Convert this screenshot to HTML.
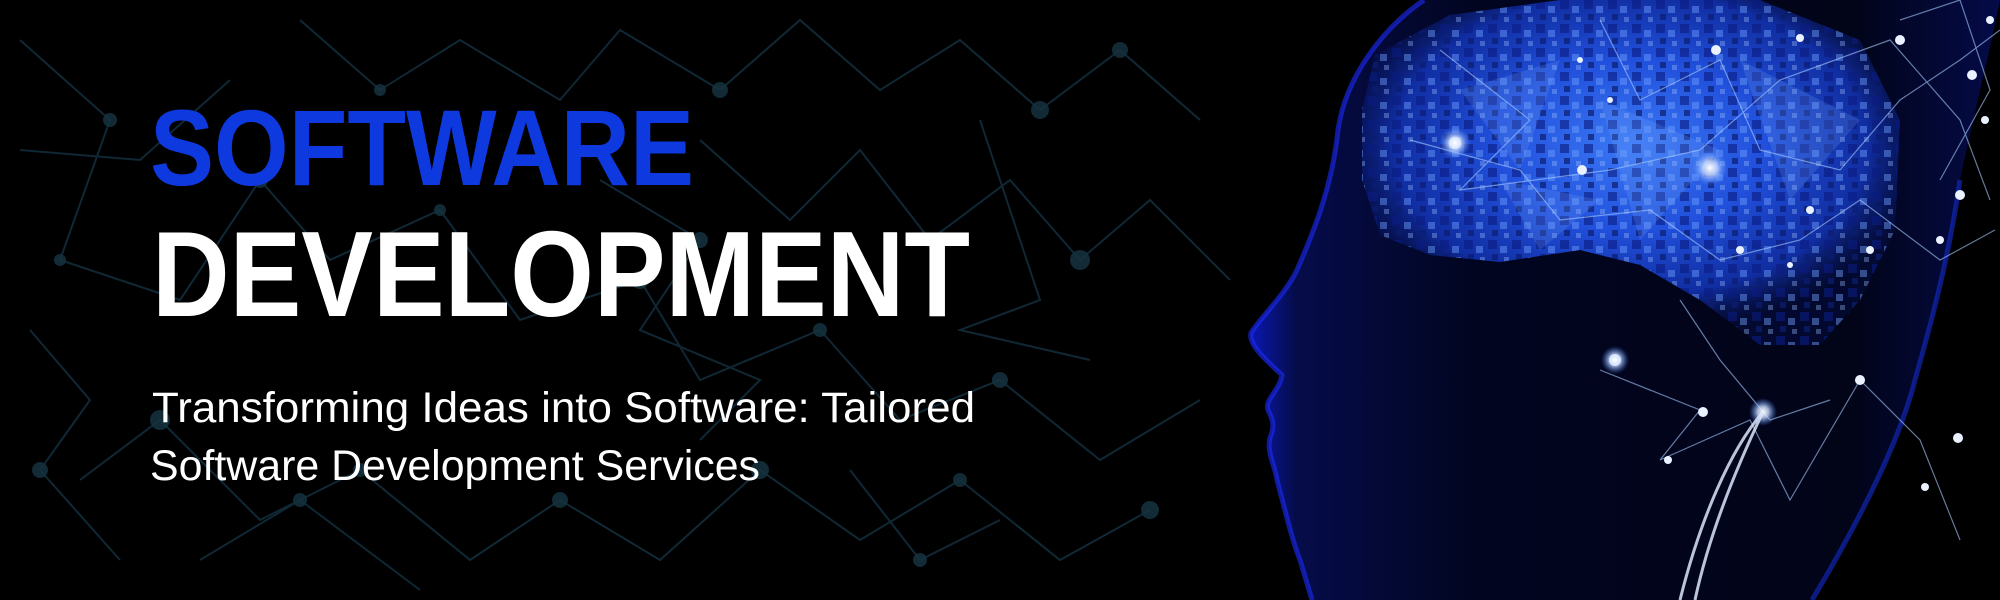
<!DOCTYPE html>
<html><head><meta charset="utf-8"><style>
html,body{margin:0;padding:0;background:#000;}
svg{display:block}
</style></head><body>
<svg width="2000" height="600" viewBox="0 0 2000 600" xmlns="http://www.w3.org/2000/svg">
<defs>
<linearGradient id="head" x1="0" y1="0" x2="1" y2="0">
<stop offset="0" stop-color="#0a18b0"/><stop offset="0.06" stop-color="#050c4a"/><stop offset="0.3" stop-color="#020520"/><stop offset="0.8" stop-color="#020418"/><stop offset="1" stop-color="#040b48"/>
</linearGradient>
<radialGradient id="brain" cx="0.5" cy="0.42" r="0.55">
<stop offset="0" stop-color="#3a78f5"/><stop offset="0.45" stop-color="#2150dc"/><stop offset="0.8" stop-color="#1232b0" stop-opacity="0.9"/><stop offset="1" stop-color="#061560" stop-opacity="0.3"/>
</radialGradient>
<pattern id="sq" width="24" height="24" patternUnits="userSpaceOnUse">
<rect x="0" y="0" width="9" height="9" fill="#0a1a80" opacity="0.6"/>
<rect x="12" y="6" width="7" height="7" fill="#6fa0ff" opacity="0.45"/>
<rect x="4" y="14" width="6" height="6" fill="#0b1c70" opacity="0.7"/>
<rect x="16" y="17" width="5" height="5" fill="#9cc0ff" opacity="0.35"/>
</pattern>
<radialGradient id="glow"><stop offset="0" stop-color="#fff"/><stop offset="0.4" stop-color="#cfe0ff" stop-opacity="0.8"/><stop offset="1" stop-color="#4080ff" stop-opacity="0"/></radialGradient>
</defs>
<rect width="2000" height="600" fill="#000"/>
<g stroke="#13303f" stroke-width="2" fill="none" opacity="0.85">
<polyline points="20,40 110,120 60,260 180,300 260,180 330,260 440,210 520,320 640,280 700,380 820,330 900,420 1000,380 1100,460 1200,400"/>
<polyline points="80,480 160,420 260,520 360,470 470,560 560,500 660,560 760,470 860,540 960,480 1060,560 1150,510"/>
<polyline points="300,20 380,90 460,40 560,100 620,30 720,90 800,20 880,90 960,40 1040,110 1120,50 1200,120"/>
<polyline points="700,140 790,220 860,150 930,240 1010,180 1080,260 1150,200 1230,280"/>
<polyline points="30,330 90,400 40,470 120,560"/>
<polyline points="980,120 1040,300 960,330 1090,360"/>
<polyline points="850,470 920,560 1000,520"/>
<polyline points="20,150 140,160 230,80"/>
<polyline points="600,180 700,240 640,330 760,380 700,440"/>
<polyline points="200,560 300,500 420,590"/>
</g>
<g fill="#15323f" opacity="0.85">
<circle cx="110" cy="120" r="7"/><circle cx="60" cy="260" r="6"/><circle cx="260" cy="180" r="8"/><circle cx="440" cy="210" r="6"/><circle cx="640" cy="280" r="9"/><circle cx="820" cy="330" r="7"/><circle cx="1000" cy="380" r="8"/><circle cx="160" cy="420" r="10"/><circle cx="360" cy="470" r="7"/><circle cx="560" cy="500" r="8"/><circle cx="760" cy="470" r="9"/><circle cx="960" cy="480" r="7"/><circle cx="380" cy="90" r="6"/><circle cx="720" cy="90" r="8"/><circle cx="1040" cy="110" r="9"/><circle cx="930" cy="240" r="7"/><circle cx="1080" cy="260" r="10"/><circle cx="40" cy="470" r="8"/><circle cx="920" cy="560" r="7"/><circle cx="1120" cy="50" r="8"/><circle cx="1150" cy="510" r="9"/><circle cx="700" cy="240" r="8"/><circle cx="300" cy="500" r="7"/>
</g>
<path d="M1424,0 C1380,30 1345,80 1338,130 C1332,190 1310,240 1297,270 C1285,295 1258,320 1251,333 C1248,345 1268,362 1282,375 C1280,390 1264,400 1268,410 C1272,418 1275,425 1271,435 C1265,450 1275,465 1277,480 C1285,510 1292,540 1300,560 L1312,600 L1812,600 C1860,520 1900,440 1915,380 C1935,310 1950,250 1960,180 C1975,110 1990,50 2000,0 Z" fill="url(#head)"/>
<path d="M1424,0 C1380,30 1345,80 1338,130 C1332,190 1310,240 1297,270 C1285,295 1258,320 1251,333 C1248,345 1268,362 1282,375 C1280,390 1264,400 1268,410 C1272,418 1275,425 1271,435 C1265,450 1275,465 1277,480 C1285,510 1292,540 1300,560 L1312,600" fill="none" stroke="#1c2cff" stroke-width="5" opacity="0.6"/>
<path d="M1812,600 C1860,520 1900,440 1915,380 C1935,310 1950,250 1960,180" fill="none" stroke="#1630e0" stroke-width="5" opacity="0.55"/>
<path d="M1375,55 L1450,15 L1560,0 L1760,0 L1860,40 L1900,120 L1895,230 L1860,300 L1820,345 L1760,345 L1700,300 L1640,265 L1580,250 L1500,262 L1430,255 L1380,235 L1362,180 L1362,110 Z" fill="url(#brain)"/>
<path d="M1375,55 L1450,15 L1560,0 L1760,0 L1860,40 L1900,120 L1895,230 L1860,300 L1820,345 L1760,345 L1700,300 L1640,265 L1580,250 L1500,262 L1430,255 L1380,235 L1362,180 L1362,110 Z" fill="url(#sq)"/>
<g fill="#7fb0ff" opacity="0.18">
<polygon points="1460,90 1560,60 1520,170"/><polygon points="1600,100 1720,150 1640,240"/><polygon points="1740,60 1860,120 1790,200"/><polygon points="1500,180 1600,200 1540,250"/>
</g>
<g stroke="#a8ccff" stroke-width="1.2" opacity="0.6" fill="none">
<polyline points="1440,50 1530,120 1460,190 1610,170 1700,150 1780,80 1890,40 1960,120 1990,200"/>
<polyline points="1410,140 1520,170 1560,220 1650,210 1720,260 1800,240 1860,200 1940,260 1995,230"/>
<polyline points="1600,20 1640,100 1720,60 1760,150 1840,170 1900,100 1960,60 2000,30"/>
<polyline points="1600,370 1700,410 1660,460 1750,420 1790,500 1860,380 1920,440 1960,540"/>
<polyline points="1680,300 1720,360 1770,420 1830,400"/>
<polyline points="1900,20 1960,0 1990,90 1940,180"/>
</g>
<g fill="#eaf2ff">
<circle cx="1455" cy="143" r="6"/><circle cx="1582" cy="170" r="5"/><circle cx="1716" cy="50" r="5"/><circle cx="1800" cy="38" r="4"/><circle cx="1900" cy="40" r="5"/><circle cx="1972" cy="75" r="5"/><circle cx="1960" cy="195" r="5"/><circle cx="1940" cy="240" r="4"/><circle cx="1870" cy="250" r="4"/><circle cx="1810" cy="210" r="4"/><circle cx="1740" cy="250" r="4"/><circle cx="1615" cy="360" r="6"/><circle cx="1703" cy="412" r="5"/><circle cx="1668" cy="460" r="4"/><circle cx="1860" cy="380" r="5"/><circle cx="1958" cy="438" r="5"/><circle cx="1925" cy="487" r="4"/><circle cx="1790" cy="265" r="3"/><circle cx="1580" cy="60" r="3"/><circle cx="1610" cy="100" r="3"/><circle cx="1990" cy="20" r="4"/><circle cx="1985" cy="120" r="4"/>
</g>
<circle cx="1455" cy="143" r="16" fill="url(#glow)"/><circle cx="1710" cy="168" r="18" fill="url(#glow)"/><circle cx="1763" cy="412" r="14" fill="url(#glow)"/><circle cx="1615" cy="360" r="14" fill="url(#glow)"/>
<path d="M1763,412 C1730,450 1700,520 1680,600 M1763,412 C1740,460 1710,530 1695,600" stroke="#dde6ff" stroke-width="3" fill="none" opacity="0.85"/>
<text x="150" y="185" font-family="Liberation Sans, sans-serif" font-weight="bold" font-size="108" fill="#0d39df" textLength="544" lengthAdjust="spacingAndGlyphs">SOFTWARE</text>
<text x="152" y="316" font-family="Liberation Sans, sans-serif" font-weight="bold" font-size="122" fill="#ffffff" textLength="818" lengthAdjust="spacingAndGlyphs">DEVELOPMENT</text>
<text x="152" y="422" font-family="Liberation Sans, sans-serif" font-size="43" fill="#ffffff" textLength="823" lengthAdjust="spacingAndGlyphs">Transforming Ideas into Software: Tailored</text>
<text x="150" y="480" font-family="Liberation Sans, sans-serif" font-size="43" fill="#ffffff" textLength="610" lengthAdjust="spacingAndGlyphs">Software Development Services</text>
</svg>
</body></html>
